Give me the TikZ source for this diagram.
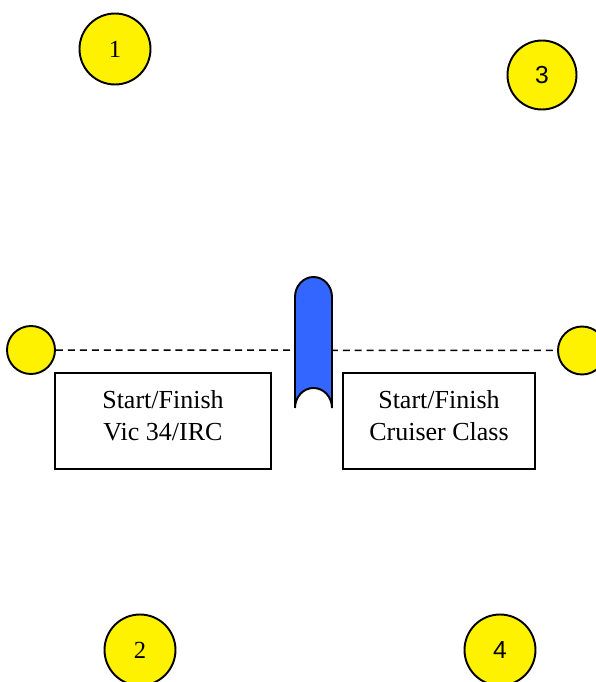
\documentclass[tikz,border=0pt]{standalone}
\usepackage{fontspec}
\setmainfont{Liberation Serif}
\newfontfamily\arialfont{Liberation Sans}
\definecolor{boatblue}{RGB}{51,102,255}
\tikzset{
  buoy/.style={circle, draw, line width=1.1pt, fill=yellow, inner sep=0pt, font=\fontsize{14}{16}\selectfont},
  startbox/.style={draw, line width=0.8pt, align=center, minimum height=1.92cm, inner sep=0pt, text depth=6.2pt, font=\fontsize{14.8}{18.1}\selectfont}
}
\begin{document}
\begin{tikzpicture}
      \useasboundingbox (0,0) rectangle (11.92,13.64);
      % marks of the course
      \node[buoy, minimum size=1.42cm] (m1) at (2.30,12.66) {1};
      \node[buoy, minimum size=1.38cm] (m3) at (10.84,12.14) {\arialfont 3};
      \node[buoy, minimum size=1.42cm] (m2) at (2.80,0.64) {2};
      \node[buoy, minimum size=1.42cm] (m4) at (10.00,0.64) {\arialfont 4};
      % start line ends
      \node[buoy, minimum size=0.96cm] (lineL) at (0.62,6.64) {};
      \node[buoy, minimum size=0.96cm] (lineR) at (11.64,6.63) {};
      \draw[line width=0.85pt, dash pattern=on 4pt off 2.8pt] (lineL) -- (lineR);
      % committee boat
      \draw[line width=1.1pt, fill=boatblue] (5.90,5.48) -- (5.90,7.70) arc[start angle=180, end angle=0, x radius=0.37cm, y radius=0.40cm]
            -- (6.64,5.48) arc[start angle=0, end angle=180, x radius=0.37cm, y radius=0.40cm];
      \node[startbox, minimum width=4.32cm] (boxL) at (3.26,5.22) {Start/Finish\\Vic 34/IRC};
      \node[startbox, minimum width=3.84cm] (boxR) at (8.78,5.22) {Start/Finish\\Cruiser Class};
\end{tikzpicture}
\end{document}
